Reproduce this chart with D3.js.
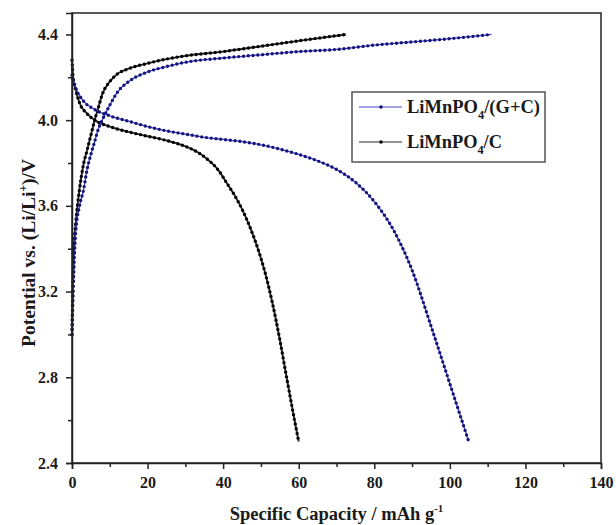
<!DOCTYPE html>
<html><head><meta charset="utf-8">
<script src="https://cdn.jsdelivr.net/npm/d3@7/dist/d3.min.js"></script>
<style>
body{margin:0;background:#fff;}
text{font-family:"Liberation Serif","Times New Roman",serif;font-weight:bold;fill:#1a1a1a;}
</style></head>
<body><svg id="c" width="616" height="525"></svg>
<script>
// ---- data ----
const seriesNames = ["LiMnPO4/(G+C)", "LiMnPO4/C"];
// LiMnPO4/(G+C) charge
const gcChargeX = [0,0.3,0.6,1,2,3,4,5,6,7,8,10,12,15,20,25,30,40,50,60,70,80,90,100,111];
const gcChargeV = [3.0,3.2,3.35,3.48,3.6,3.67,3.77,3.84,3.90,3.96,4.0,4.07,4.13,4.18,4.225,4.25,4.27,4.29,4.305,4.32,4.33,4.35,4.365,4.38,4.40];
// LiMnPO4/(G+C) discharge
const gcDisX = [0,1,3,6,10,15,20,25,30,35,40,45,50,55,60,65,70,75,80,85,90,95,100,105];
const gcDisV = [4.21,4.15,4.09,4.05,4.02,3.995,3.97,3.95,3.935,3.92,3.91,3.90,3.885,3.865,3.84,3.81,3.77,3.71,3.62,3.49,3.30,3.04,2.77,2.50];
// LiMnPO4/C charge
const cChargeX = [0,0.2,0.5,1,2,3,4,5,6,7,8,10,12,15,20,25,30,40,50,60,72.5];
const cChargeV = [3.0,3.2,3.4,3.52,3.68,3.79,3.86,3.93,4.0,4.06,4.12,4.18,4.215,4.24,4.265,4.285,4.30,4.32,4.345,4.37,4.40];
// LiMnPO4/C discharge
const cDisX = [0,0.3,1,2,4,6,10,15,20,25,28,30,32,34,36,38,39,41,43,45,47,49,51,53,55,57,59,60];
const cDisV = [4.28,4.2,4.14,4.08,4.03,4.00,3.97,3.945,3.925,3.905,3.89,3.878,3.862,3.842,3.815,3.782,3.76,3.705,3.65,3.585,3.505,3.41,3.295,3.15,2.975,2.78,2.59,2.5];

const xTicks = [0,20,40,60,80,100,120,140];
const xMinor = [10,30,50,70,90,110,130];
const yTicks = [2.4,2.8,3.2,3.6,4.0,4.4];
const yMinor = [2.6,3.0,3.4,3.8,4.2];

// ---- drawing ----
const svg = d3.select("#c");
const L=72, R=601, T=13, B=463;
const x = d3.scaleLinear().domain([0,140]).range([L,R]);
const y = d3.scaleLinear().domain([2.4,4.5]).range([B,T]);

const zip = (xs,vs)=>xs.map((d,i)=>[d,vs[i]]);
const line = d3.line().x(d=>x(d[0])).y(d=>y(d[1])).curve(d3.curveMonotoneX);

const styles = [
  {name:seriesNames[0], lineColor:"#4646c8", dotColor:"#14147a", w:1.3},
  {name:seriesNames[1], lineColor:"#2a2a2a", dotColor:"#000", w:1.9}
];
const curves = [
  {d:zip(cChargeX,cChargeV), s:styles[1]},
  {d:zip(cDisX,cDisV), s:styles[1]},
  {d:zip(gcChargeX,gcChargeV), s:styles[0]},
  {d:zip(gcDisX,gcDisV), s:styles[0]}
];
curves.forEach(c=>{
  svg.append("path").attr("d",line(c.d)).attr("fill","none")
    .attr("stroke",c.s.lineColor).attr("stroke-width",c.s.w);
  // dense point markers drawn as a dotted stroke along the curve
  svg.append("path").attr("d",line(c.d)).attr("fill","none")
    .attr("stroke",c.s.dotColor).attr("stroke-width",3.4)
    .attr("stroke-linecap","round").attr("stroke-dasharray","0 4.8");
});

// axes
svg.append("g").attr("transform",`translate(0,${B})`)
  .call(d3.axisBottom(x).tickValues(xTicks).tickSize(6).tickPadding(8).tickFormat(d3.format("d")));
svg.append("g").attr("transform",`translate(0,${B})`)
  .call(d3.axisBottom(x).tickValues(xMinor).tickSize(4).tickFormat(""))
  .select(".domain").remove();
svg.append("g").attr("transform",`translate(${L},0)`)
  .call(d3.axisLeft(y).tickValues(yTicks).tickSize(6).tickPadding(8).tickFormat(d3.format(".1f")));
svg.append("g").attr("transform",`translate(${L},0)`)
  .call(d3.axisLeft(y).tickValues(yMinor).tickSize(4).tickFormat(""))
  .select(".domain").remove();
svg.selectAll(".tick line").attr("stroke","#222").attr("stroke-width",1.5);
svg.selectAll(".domain").attr("stroke","#222").attr("stroke-width",1.5);
svg.selectAll(".tick text").style("font-size","16px").attr("fill","#1a1a1a");
// frame
svg.append("rect").attr("x",L).attr("y",T).attr("width",R-L).attr("height",B-T)
  .attr("fill","none").attr("stroke","#222").attr("stroke-width",1.5);

// axis titles
const xt = svg.append("text").attr("x",(L+R)/2).attr("y",520).attr("text-anchor","middle").style("font-size","18.5px");
xt.append("tspan").text("Specific Capacity / mAh g");
xt.append("tspan").attr("dy",-8).style("font-size","11px").text("-1");

const yt = svg.append("text").attr("transform",`translate(35,253) rotate(-90)`).attr("text-anchor","middle").style("font-size","19.5px");
yt.append("tspan").text("Potential vs. (Li/Li");
yt.append("tspan").attr("dy",-8).style("font-size","11.5px").text("+");
yt.append("tspan").attr("dy",8).text(")/V");

// legend
const lg = svg.append("g");
lg.append("rect").attr("x",352).attr("y",92).attr("width",193).attr("height",70)
  .attr("fill","#fff").attr("stroke","#555").attr("stroke-width",1.5);
const legItems = [
  {s:styles[0], y:107, parts:["LiMnPO","4","/(G+C)"]},
  {s:styles[1], y:142, parts:["LiMnPO","4","/C"]}
];
legItems.forEach(it=>{
  lg.append("line").attr("x1",359).attr("x2",402).attr("y1",it.y).attr("y2",it.y)
    .attr("stroke",it.s.lineColor).attr("stroke-width",1.2);
  lg.append("circle").attr("cx",381).attr("cy",it.y).attr("r",1.8).attr("fill",it.s.dotColor);
  const t = lg.append("text").attr("x",407).attr("y",it.y+6).style("font-size","18px")
    .attr("textLength",it.parts[2].length>3?133:95).attr("lengthAdjust","spacingAndGlyphs");
  t.append("tspan").text(it.parts[0]);
  t.append("tspan").attr("dy",6).style("font-size","12px").text(it.parts[1]);
  t.append("tspan").attr("dy",-6).text(it.parts[2]);
});
</script></body></html>
